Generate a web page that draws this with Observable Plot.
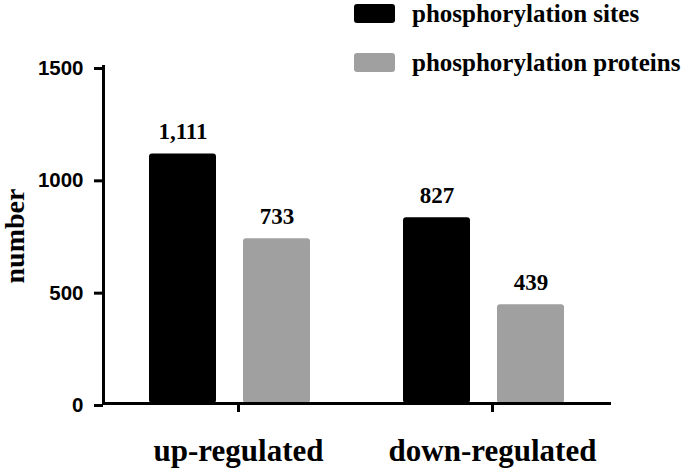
<!DOCTYPE html>
<html>
<head>
<meta charset="utf-8">
<script src="https://cdn.jsdelivr.net/npm/d3@7"></script>
<script src="https://cdn.jsdelivr.net/npm/@observablehq/plot@0.6"></script>
<style>
  html, body { margin: 0; padding: 0; background: #fff; }
  #wrap { position: relative; width: 685px; height: 469px; overflow: hidden; }
  #wrap svg { position: absolute; left: 0; top: 0; }
  .serif { font-family: "Liberation Serif", "Times New Roman", "DejaVu Serif", serif; font-weight: bold; color: #000; }
  .legend-item { position: absolute; left: 354px; display: flex; align-items: center; white-space: nowrap; font-size: 25px; line-height: 1; }
  .swatch { width: 41px; height: 19px; border-radius: 3px; margin-right: 17px; }
</style>
</head>
<body>
<div id="wrap"></div>
<script>
// ---- data ----
const groups = ["up-regulated", "down-regulated"];
const seriesNames = ["phosphorylation sites", "phosphorylation proteins"];
const sitesValues = [1111, 827];
const proteinValues = [733, 439];
const yTicks = [0, 500, 1000, 1500];
const seriesColors = ["#000000", "#a0a0a0"];
const yLabel = "number";

const data = groups.flatMap((g, i) => [
  {group: g, series: seriesNames[0], value: sitesValues[i]},
  {group: g, series: seriesNames[1], value: proteinValues[i]}
]);

const serif = "Liberation Serif, Times New Roman, serif";
const sans = "Liberation Sans, Arial, Helvetica, sans-serif";

const chart = Plot.plot({
  width: 685,
  height: 469,
  marginLeft: 103,
  marginRight: 74,
  marginTop: 66,
  marginBottom: 66,
  style: {background: "transparent", color: "#000"},
  fx: {domain: groups, padding: 0, label: null},
  x: {domain: seriesNames, paddingInner: 0.284, paddingOuter: 0.479, axis: null},
  y: {domain: [0, 1500], label: null},
  color: {domain: seriesNames, range: seriesColors},
  marks: [
    Plot.barY(data, {fx: "group", x: "series", y: "value", fill: "series", rx: 3}),
    Plot.text(data, {
      fx: "group", x: "series", y: "value",
      text: d => d3.format(",")(d.value),
      lineAnchor: "bottom", dy: -15,
      fontSize: 23, fontWeight: "bold", fontFamily: serif, fill: "#000"
    }),
    Plot.ruleY([0], {strokeWidth: 3, stroke: "#000"}),
    Plot.frame({anchor: "left", facetAnchor: "left", strokeWidth: 3, stroke: "#000"}),
    Plot.axisY({
      ticks: yTicks, tickSize: 9, tickPadding: 11, strokeWidth: 3,
      tickFormat: d => String(d), label: null,
      fontSize: 20.5, fontWeight: "bold", fontFamily: sans, dy: 2
    }),
    Plot.text([yLabel], {
      frameAnchor: "left", facetAnchor: "left", rotate: -90, dx: -88, dy: 1,
      text: d => d, textAnchor: "middle", lineAnchor: "middle",
      fontSize: 28, fontWeight: "bold", fontFamily: serif, fill: "#000"
    }),
    Plot.axisFx({
      anchor: "bottom", tickSize: 9, tickPadding: 26, strokeWidth: 3, label: null,
      fontSize: 31, fontWeight: "bold", fontFamily: serif, dx: 8
    })
  ]
});

const wrap = document.getElementById("wrap");
wrap.appendChild(chart);

const legendTops = [1, 50];
seriesNames.forEach((name, i) => {
  const item = document.createElement("div");
  item.className = "legend-item serif";
  item.style.top = legendTops[i] + "px";
  const sw = document.createElement("div");
  sw.className = "swatch"; sw.style.background = seriesColors[i];
  const tx = document.createElement("span");
  tx.textContent = name;
  item.appendChild(sw); item.appendChild(tx);
  wrap.appendChild(item);
});
</script>
</body>
</html>
